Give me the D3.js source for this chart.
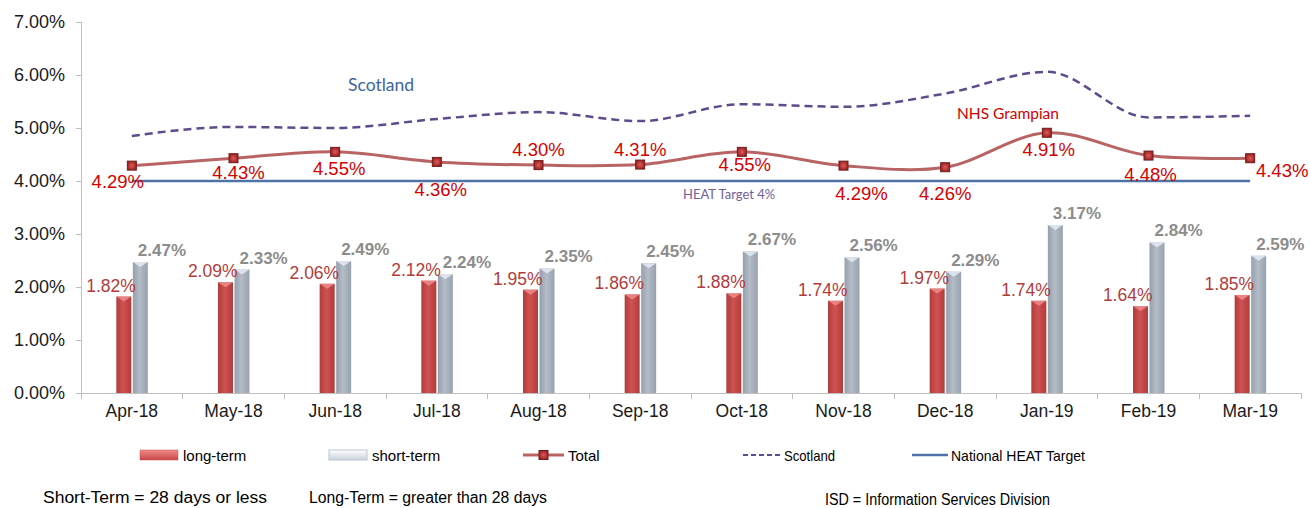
<!DOCTYPE html>
<html>
<meta charset="utf-8">
<style>
body { margin: 0; background: #fff; }
svg text { font-family: "Liberation Sans", Arial, sans-serif; }
.axis path, .axis line { fill: none; stroke: #bfbfbf; shape-rendering: crispEdges; }
.axis text { fill: #1a1a1a; }
.note { font-family: Lato, "Open Sans", sans-serif !important; }
</style>
<body>
<div id="chart"></div>
<script src="https://d3js.org/d3.v7.min.js"></script>
<script>

var months = ["Apr-18","May-18","Jun-18","Jul-18","Aug-18","Sep-18","Oct-18","Nov-18","Dec-18","Jan-19","Feb-19","Mar-19"];
var longTerm = [1.82, 2.09, 2.06, 2.12, 1.95, 1.86, 1.88, 1.74, 1.97, 1.74, 1.64, 1.85];
var shortTerm = [2.47, 2.33, 2.49, 2.24, 2.35, 2.45, 2.67, 2.56, 2.29, 3.17, 2.84, 2.59];
var total = [4.29, 4.43, 4.55, 4.36, 4.30, 4.31, 4.55, 4.29, 4.26, 4.91, 4.48, 4.43];
var scotland = [4.85, 5.02, 5.00, 5.17, 5.30, 5.13, 5.45, 5.40, 5.65, 6.06, 5.20, 5.23];
var heatTarget = 4;
var yTicks = [0, 1, 2, 3, 4, 5, 6, 7];

// where each total label sits relative to its point (px, baseline)
var totalLabelPos = [[-14, 22], [5, 21], [4, 23], [4, 34], [0, -9], [0, -9], [3, 19], [18, 34], [0, 33], [2, 23], [2, 25], [32, 19]];

var W = 1310, H = 508;
var m = {left: 81, right: 1301, top: 22, bottom: 393};

var svg = d3.select("#chart").append("svg")
    .attr("width", W)
    .attr("height", H);

var defs = svg.append("defs");

function hGrad(id, stops) {
  var g = defs.append("linearGradient").attr("id", id)
      .attr("x1", "0").attr("x2", "1").attr("y1", "0").attr("y2", "0");
  stops.forEach(function(s) {
    g.append("stop").attr("offset", s[0]).attr("stop-color", s[1]);
  });
}
hGrad("redBar", [[0, "#b13b3b"], [0.45, "#d05252"], [1, "#b23c3c"]]);
hGrad("greyBar", [[0, "#95a0ad"], [0.45, "#b3bcc7"], [1, "#97a2ae"]]);
var vg = defs.append("linearGradient").attr("id", "redLeg")
    .attr("x1", "0").attr("x2", "0").attr("y1", "0").attr("y2", "1");
vg.append("stop").attr("offset", 0).attr("stop-color", "#f08a8a");
vg.append("stop").attr("offset", 1).attr("stop-color", "#c84848");
var vg2 = defs.append("linearGradient").attr("id", "greyLeg")
    .attr("x1", "0").attr("x2", "0").attr("y1", "0").attr("y2", "1");
vg2.append("stop").attr("offset", 0).attr("stop-color", "#ffffff");
vg2.append("stop").attr("offset", 1).attr("stop-color", "#c9d1db");
var mg = defs.append("radialGradient").attr("id", "marker");
mg.append("stop").attr("offset", 0).attr("stop-color", "#e05a5a");
mg.append("stop").attr("offset", 1).attr("stop-color", "#a02424");

var x = d3.scaleBand()
    .domain(months)
    .range([m.left, m.right]);

var y = d3.scaleLinear()
    .domain([0, 7])
    .range([m.bottom, m.top]);

function cx(i) { return x(months[i]) + x.bandwidth() / 2; }

// y axis
var yAxis = d3.axisLeft(y)
    .tickValues(yTicks)
    .tickSize(5)
    .tickPadding(11)
    .tickFormat(function(d) { return d.toFixed(2) + "%"; });

svg.append("g")
    .attr("class", "y axis")
    .attr("transform", "translate(" + m.left + ",0)")
    .call(yAxis)
    .call(function(g) { g.selectAll("text").style("font-size", "18px"); })
    .call(function(g) { g.select(".domain").attr("d", "M0," + m.top + "V" + m.bottom); });

// x axis
var xAxis = d3.axisBottom(x).tickSize(0).tickPadding(12);
var xg = svg.append("g")
    .attr("class", "x axis")
    .attr("transform", "translate(0," + m.bottom + ")")
    .call(xAxis);
xg.selectAll("text").style("font-size", "17.5px");
xg.select(".domain").attr("d", "M" + m.left + ",0H" + m.right);
xg.selectAll(".sep")
    .data(d3.range(months.length + 1))
    .enter().append("line")
    .attr("class", "sep")
    .attr("x1", function(i) { return m.left + i * x.bandwidth(); })
    .attr("x2", function(i) { return m.left + i * x.bandwidth(); })
    .attr("y1", 0).attr("y2", 6);

// bars
var bw = 15;
var bars = svg.append("g");

function drawBars(vals, fill, cap, dx) {
  var g = bars.append("g");
  g.selectAll("rect")
    .data(vals)
    .enter().append("rect")
    .attr("x", function(d, i) { return cx(i) + dx; })
    .attr("y", function(d) { return y(d); })
    .attr("width", bw)
    .attr("height", function(d) { return y(0) - y(d); })
    .attr("fill", fill);
  g.selectAll("path")
    .data(vals)
    .enter().append("path")
    .attr("d", function(d, i) {
      var x0 = cx(i) + dx, y0 = y(d);
      return "M" + x0 + "," + y0 + "H" + (x0 + bw) + "L" + (x0 + bw / 2) + "," + (y0 + 5) + "Z";
    })
    .attr("fill", cap)
    .attr("opacity", 0.8);
}
drawBars(longTerm, "url(#redBar)", "#f09090", -bw - 0.5);
drawBars(shortTerm, "url(#greyBar)", "#e8eef6", 1);

svg.append("g").selectAll("text")
    .data(longTerm)
    .enter().append("text")
    .attr("x", function(d, i) { return cx(i) + 4; })
    .attr("y", function(d) { return y(d) - 5; })
    .attr("text-anchor", "end")
    .style("font-size", "17.5px")
    .attr("fill", "#b03c3c")
    .text(function(d) { return d.toFixed(2) + "%"; });

svg.append("g").selectAll("text")
    .data(shortTerm)
    .enter().append("text")
    .attr("x", function(d, i) { return cx(i) + 6; })
    .attr("y", function(d) { return y(d) - 6; })
    .style("font-size", "17px")
    .style("font-weight", "bold")
    .attr("fill", "#8c8c8c")
    .text(function(d) { return d.toFixed(2) + "%"; });

// HEAT target line
svg.append("line")
    .attr("x1", cx(0)).attr("x2", cx(months.length - 1))
    .attr("y1", y(heatTarget)).attr("y2", y(heatTarget))
    .attr("stroke", "#4f73a8")
    .attr("stroke-width", 2.5);

// Scotland
var scotLine = d3.line()
    .x(function(d, i) { return cx(i); })
    .y(function(d) { return y(d); })
    .curve(d3.curveMonotoneX);

svg.append("path")
    .datum(scotland)
    .attr("d", scotLine)
    .attr("fill", "none")
    .attr("stroke", "#5e4b8b")
    .attr("stroke-width", 2.5)
    .attr("stroke-dasharray", "8,5");

// Total
var line = d3.line()
    .x(function(d, i) { return cx(i); })
    .y(function(d) { return y(d); })
    .curve(d3.curveCatmullRom.alpha(0.5));

svg.append("path")
    .datum(total)
    .attr("d", line)
    .attr("fill", "none")
    .attr("stroke", "#b86464")
    .attr("stroke-width", 3);

svg.append("g").selectAll("rect")
    .data(total)
    .enter().append("rect")
    .attr("x", function(d, i) { return cx(i) - 4.5; })
    .attr("y", function(d) { return y(d) - 4.5; })
    .attr("width", 9).attr("height", 9)
    .attr("fill", "url(#marker)")
    .attr("stroke", "#6e1c1c")
    .attr("stroke-width", 1);

svg.append("g").selectAll("text")
    .data(total)
    .enter().append("text")
    .attr("x", function(d, i) { return cx(i) + totalLabelPos[i][0]; })
    .attr("y", function(d, i) { return y(d) + totalLabelPos[i][1]; })
    .attr("text-anchor", "middle")
    .style("font-size", "18.5px")
    .attr("fill", "#d40000")
    .text(function(d) { return d.toFixed(2) + "%"; });

// annotations
svg.append("text").attr("class", "note")
    .attr("x", 348).attr("y", 91)
    .style("font-size", "17.5px").attr("fill", "#3d66a0")
    .text("Scotland");
svg.append("text").attr("class", "note")
    .attr("x", 957).attr("y", 119)
    .style("font-size", "15.5px").attr("fill", "#d40000")
    .text("NHS Grampian");
svg.append("text").attr("class", "note")
    .attr("x", 683).attr("y", 199)
    .style("font-size", "13px").attr("fill", "#6f5f9a")
    .text("HEAT  Target 4%");

// legend
var lg = svg.append("g").style("font-size", "15px");
var ly = 455;
lg.append("rect").attr("x", 140).attr("y", ly - 5).attr("width", 38).attr("height", 10)
    .attr("fill", "url(#redLeg)").attr("stroke", "#c85050").attr("stroke-width", 0.5);
lg.append("text").attr("x", 183).attr("y", ly + 5.5).text("long-term");
lg.append("rect").attr("x", 329).attr("y", ly - 5).attr("width", 38).attr("height", 10)
    .attr("fill", "url(#greyLeg)").attr("stroke", "#bcc6d2").attr("stroke-width", 1);
lg.append("text").attr("x", 372).attr("y", ly + 5.5).text("short-term");
lg.append("line").attr("x1", 523).attr("x2", 564).attr("y1", ly).attr("y2", ly)
    .attr("stroke", "#b86464").attr("stroke-width", 3);
lg.append("rect").attr("x", 539).attr("y", ly - 4.5).attr("width", 9).attr("height", 9)
    .attr("fill", "url(#marker)").attr("stroke", "#6e1c1c");
lg.append("text").attr("x", 568).attr("y", ly + 5.5).text("Total");
lg.append("line").attr("x1", 743).attr("x2", 780).attr("y1", ly).attr("y2", ly)
    .attr("stroke", "#5e4b8b").attr("stroke-width", 2).attr("stroke-dasharray", "5,3");
lg.append("text").attr("x", 784).attr("y", ly + 5.5)
    .attr("textLength", 51).attr("lengthAdjust", "spacingAndGlyphs").text("Scotland");
lg.append("line").attr("x1", 912).attr("x2", 948).attr("y1", ly).attr("y2", ly)
    .attr("stroke", "#4f73a8").attr("stroke-width", 2.5);
lg.append("text").attr("x", 951).attr("y", ly + 5.5)
    .attr("textLength", 134).attr("lengthAdjust", "spacingAndGlyphs").text("National HEAT Target");

// footnotes
var fn = svg.append("g").style("font-size", "16px");
fn.append("text").attr("x", 43).attr("y", 503)
    .attr("textLength", 224).attr("lengthAdjust", "spacingAndGlyphs").text("Short-Term = 28 days or less");
fn.append("text").attr("x", 309).attr("y", 503)
    .attr("textLength", 238).attr("lengthAdjust", "spacingAndGlyphs").text("Long-Term = greater than 28 days");
fn.append("text").attr("x", 825).attr("y", 505)
    .attr("textLength", 225).attr("lengthAdjust", "spacingAndGlyphs").text("ISD = Information Services Division");

</script>
</body>
</html>
